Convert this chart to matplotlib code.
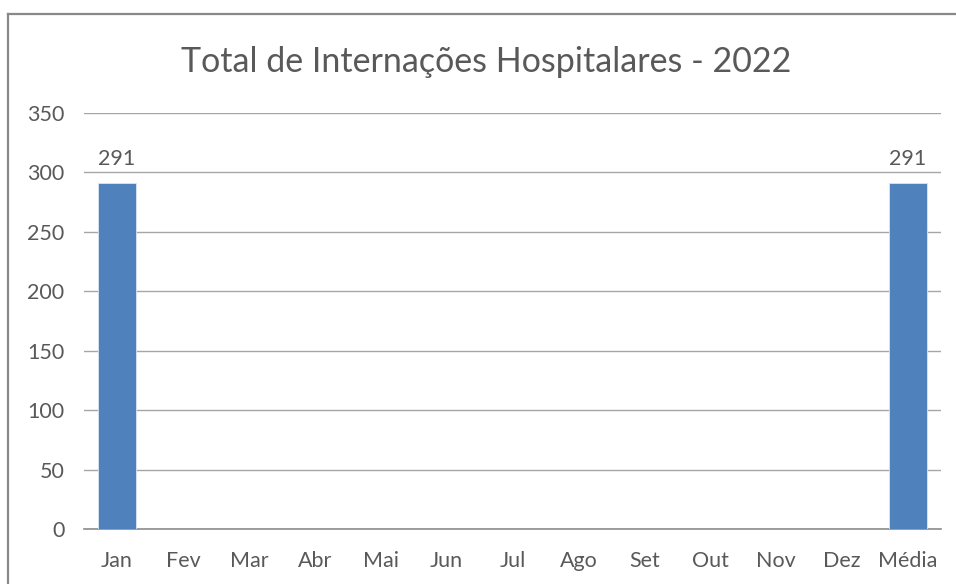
import matplotlib
matplotlib.use("Agg")
import matplotlib.pyplot as plt
from matplotlib.lines import Line2D

categories = ["Jan", "Fev", "Mar", "Abr", "Mai", "Jun", "Jul", "Ago", "Set", "Out", "Nov", "Dez", "Média"]
values = [291, 0, 0, 0, 0, 0, 0, 0, 0, 0, 0, 0, 291]
yticks = [0, 50, 100, 150, 200, 250, 300, 350]
title = "Total de Internações Hospitalares - 2022"

plt.rcParams['font.family'] = ['Lato', 'DejaVu Sans']
txt = '#595959'

fig = plt.figure(figsize=(9.56, 5.84), dpi=100)
ax = fig.add_axes([0.0879, 0.0942, 0.8964, 0.7123])

x = list(range(len(categories)))
bars = ax.bar(x, values, width=0.58, color='#4f81bd', edgecolor='#dce6f2', linewidth=0.6, zorder=3)
for xi, v in zip(x, values):
    if v:
        ax.text(xi, v + 12, str(v), ha='center', va='bottom', fontsize=15.5, color=txt)

ax.set_xlim(-0.5, len(categories) - 0.5)
ax.set_ylim(0, 350)
ax.set_yticks(yticks)
ax.set_xticks(x)
ax.set_xticklabels(categories)
ax.tick_params(axis='both', length=0, labelsize=15.5, labelcolor=txt)
ax.tick_params(axis='y', pad=14)
ax.tick_params(axis='x', pad=16)
ax.grid(axis='y', color='#a6a6a6', linewidth=1, zorder=0)
for s in ['top', 'right', 'left']:
    ax.spines[s].set_visible(False)
ax.spines['bottom'].set_color('#8c8c8c')
ax.spines['bottom'].set_linewidth(1.2)

fig.text(0.509, 0.894, title, ha='center', va='center', fontsize=24.5, color=txt)

# chart frame (top and left edges visible)
fig.add_artist(Line2D([8/956, 1.0], [1 - 14/584, 1 - 14/584], color='#888888', linewidth=1.6, transform=fig.transFigure))
fig.add_artist(Line2D([8/956, 8/956], [0, 1 - 14/584], color='#888888', linewidth=1.6, transform=fig.transFigure))

fig.savefig("out.png", dpi=100, facecolor='white')
